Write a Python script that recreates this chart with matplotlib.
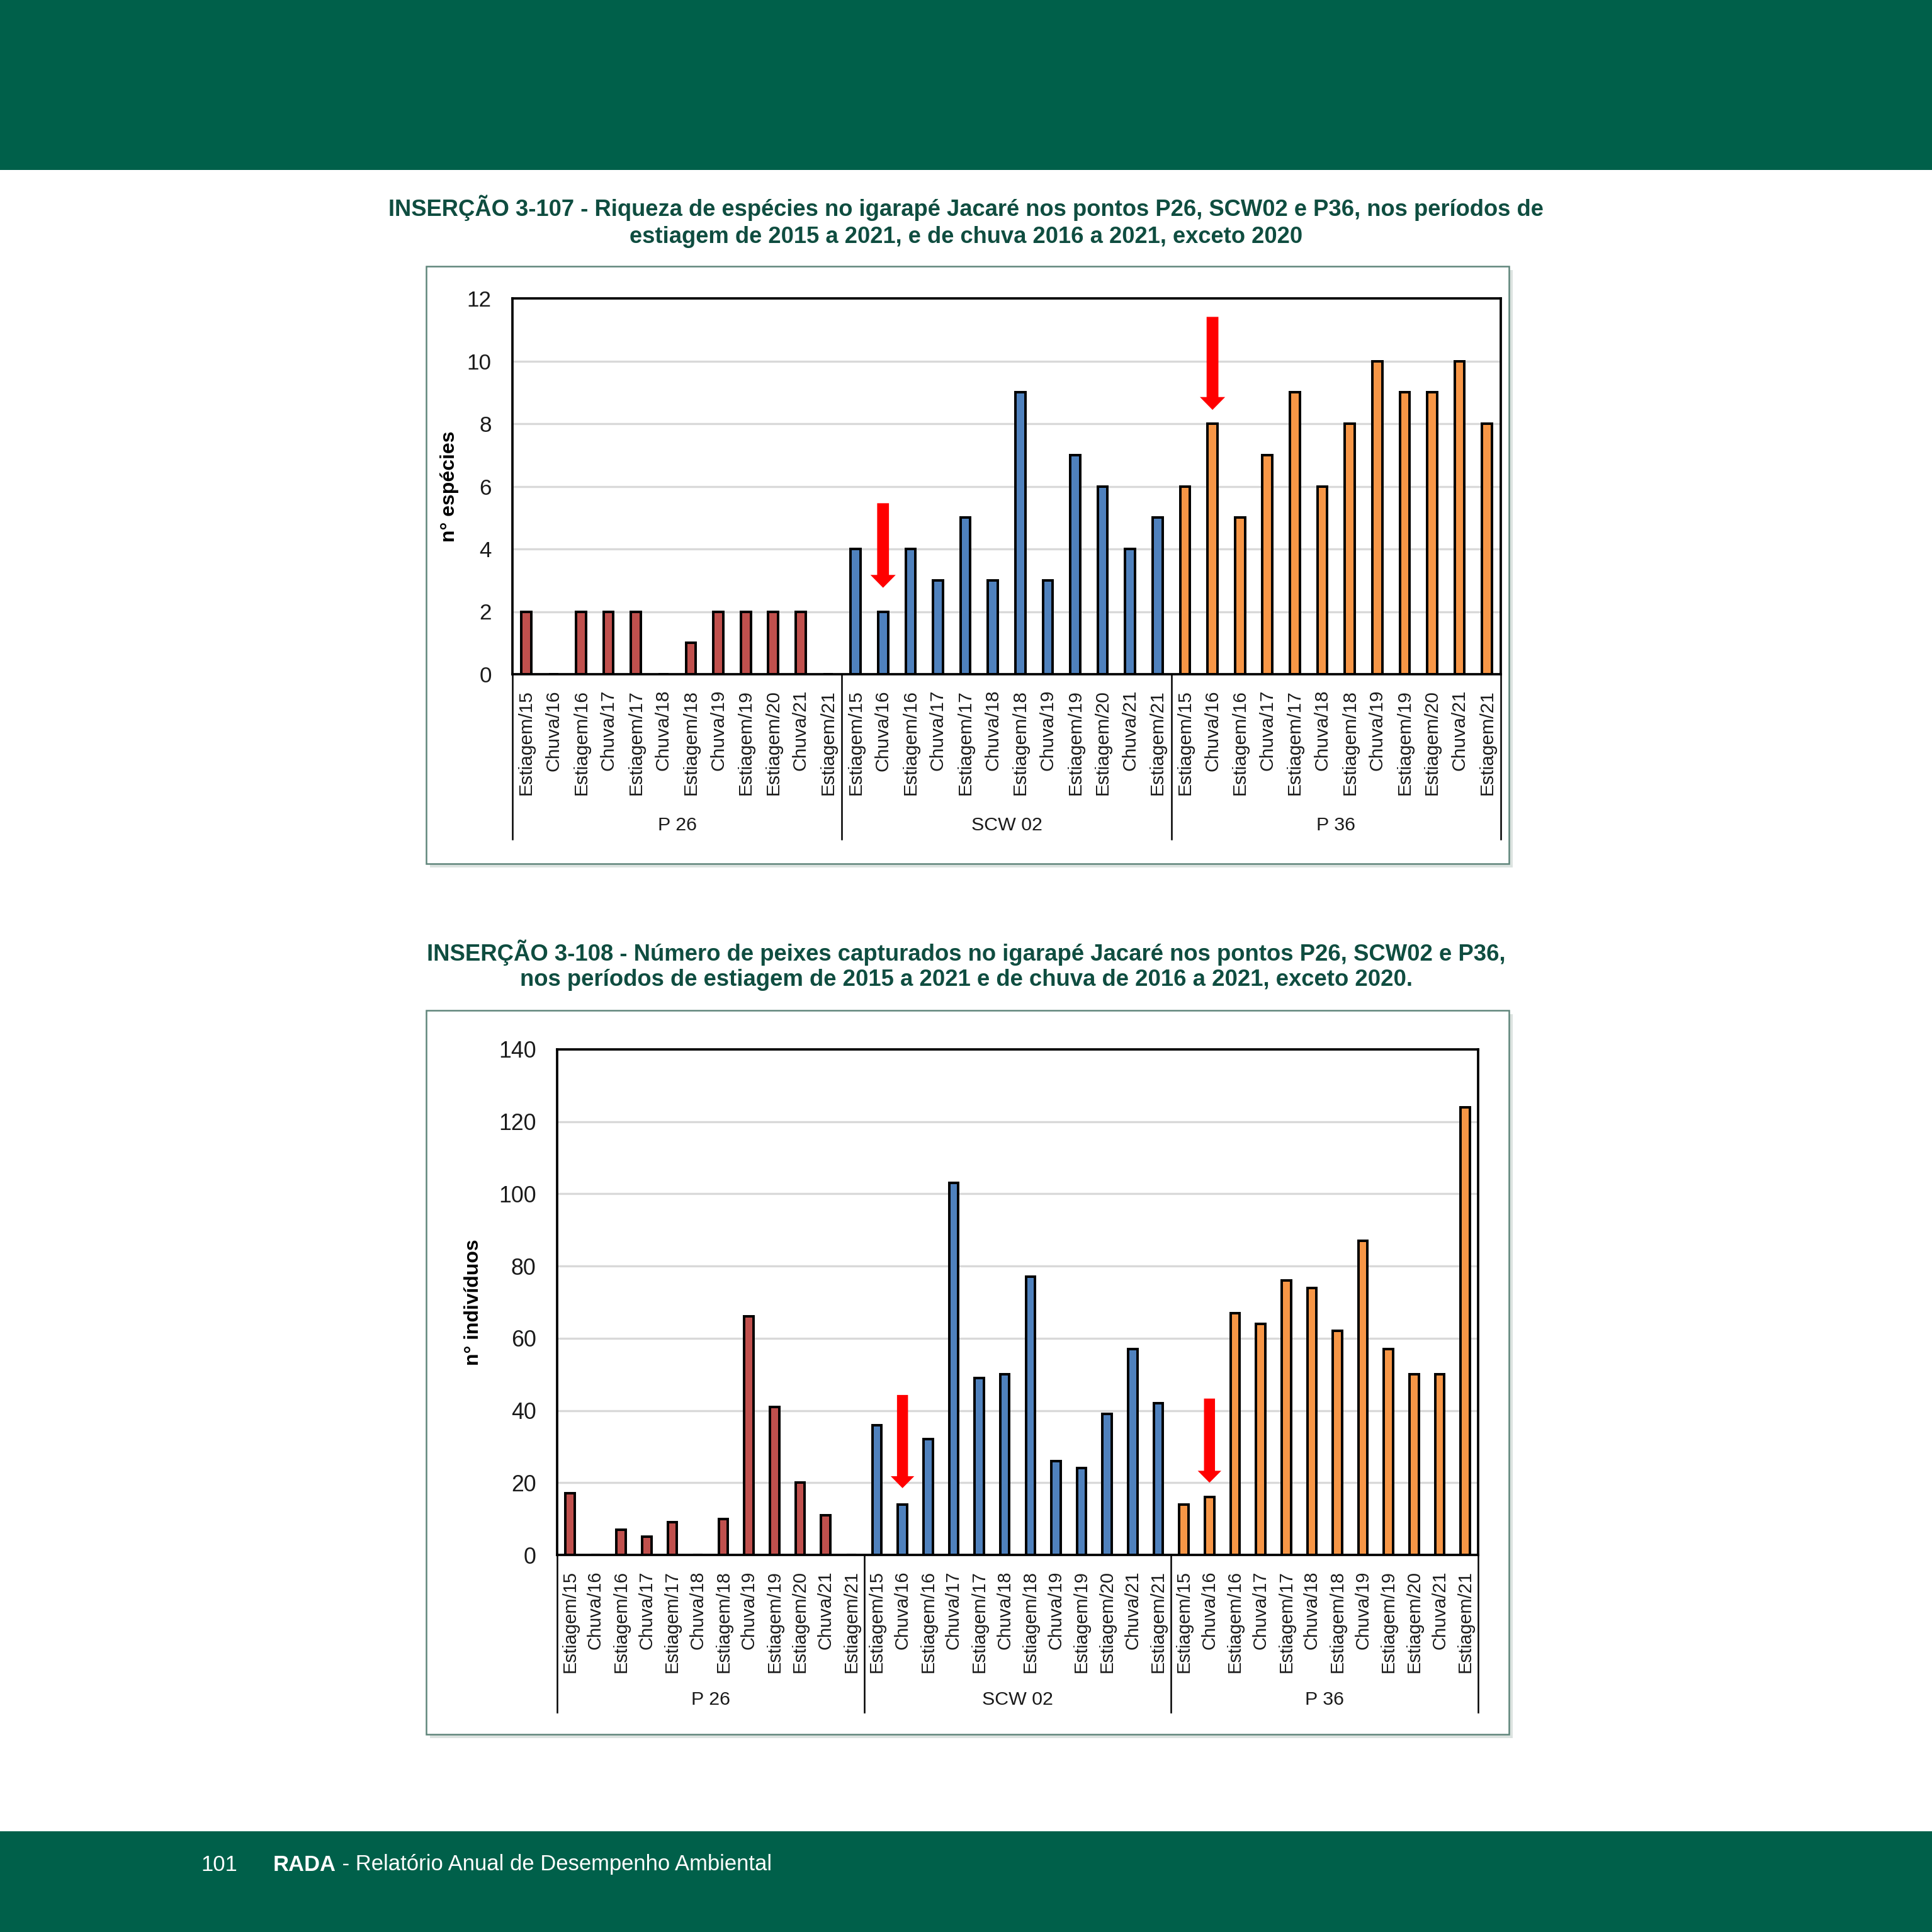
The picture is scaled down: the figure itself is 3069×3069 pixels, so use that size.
import matplotlib
matplotlib.use("Agg")
import matplotlib.pyplot as plt
from matplotlib.patches import Rectangle
from matplotlib.transforms import blended_transform_factory

W = H = 3069
DPI = 300

pontos = ["P 26", "SCW 02", "P 36"]
campanhas = ["Estiagem/15", "Chuva/16", "Estiagem/16", "Chuva/17", "Estiagem/17", "Chuva/18",
             "Estiagem/18", "Chuva/19", "Estiagem/19", "Estiagem/20", "Chuva/21", "Estiagem/21"]
cores = ["#C0504D", "#4F81BD", "#F79646"]

# Inserção 3-107 - riqueza de espécies
riqueza_p26 = [2, 0, 2, 2, 2, 0, 1, 2, 2, 2, 2, 0]
riqueza_scw02 = [4, 2, 4, 3, 5, 3, 9, 3, 7, 6, 4, 5]
riqueza_p36 = [6, 8, 5, 7, 9, 6, 8, 10, 9, 9, 10, 8]

# Inserção 3-108 - número de peixes
peixes_p26 = [17, 0, 7, 5, 9, 0, 10, 66, 41, 20, 11, 0]
peixes_scw02 = [36, 14, 32, 103, 49, 50, 77, 26, 24, 39, 57, 42]
peixes_p36 = [14, 16, 67, 64, 76, 74, 62, 87, 57, 50, 50, 124]

# setas vermelhas: (índice da categoria, topo, ponta)
setas_riqueza = [(13, 5.46, 2.76), (25, 11.41, 8.44)]
setas_peixes = [(13, 44.3, 18.5), (25, 43.3, 20.0)]

titulo1 = ["INSERÇÃO 3-107 - Riqueza de espécies no igarapé Jacaré nos pontos P26, SCW02 e P36, nos períodos de",
           "estiagem de 2015 a 2021, e de chuva 2016 a 2021, exceto 2020"]
titulo2 = ["INSERÇÃO 3-108 - Número de peixes capturados no igarapé Jacaré nos pontos P26, SCW02 e P36,",
           "nos períodos de estiagem de 2015 a 2021 e de chuva de 2016 a 2021, exceto 2020."]

VERDE = "#00604A"
VERDE_TXT = "#0F4D40"

plt.rcParams["font.family"] = ["Liberation Sans", "DejaVu Sans"]

fig = plt.figure(figsize=(W / DPI, H / DPI), dpi=DPI)
fig.patch.set_facecolor("white")

# fundo em coordenadas de pixel (y para baixo)
bg = fig.add_axes([0, 0, 1, 1])
bg.set_xlim(0, W)
bg.set_ylim(H, 0)
bg.axis("off")

bg.add_patch(Rectangle((0, 0), W, 270, facecolor=VERDE, edgecolor="none"))
bg.add_patch(Rectangle((0, 2909), W, H - 2909, facecolor=VERDE, edgecolor="none"))

for (y0, y1) in [(423, 1372), (1605, 2755)]:
    bg.add_patch(Rectangle((683, y0 + 6), 1720, y1 - y0, facecolor="#DCE3E0", edgecolor="none"))
    bg.add_patch(Rectangle((677, y0), 1720, y1 - y0, facecolor="white", edgecolor="#5F857A", linewidth=0.6))

for linha, y in zip(titulo1, [330, 376]):
    bg.text(W / 2, y, linha, ha="center", va="center", fontsize=8.72, fontweight="bold", color=VERDE_TXT)
for linha, y in zip(titulo2, [1513, 1557]):
    bg.text(W / 2, y, linha, ha="center", va="center", fontsize=8.78, fontweight="bold", color=VERDE_TXT)

# rodapé
bg.text(319, 2962, "101", ha="left", va="center", fontsize=8.3, color="white")
rada = bg.text(434, 2962, "RADA", ha="left", va="center", fontsize=8.3, color="white", fontweight="bold")
bg.annotate(" - Relatório Anual de Desempenho Ambiental", xy=(1, 0), xycoords=rada,
            ha="left", va="bottom", fontsize=8.3, color="white")


def grafico(box, series, ymax, ystep, ylabel, ylabel_x, setas, head_len, fs_y, fs_x, sep_px, grp_px):
    x0, y0, x1, y1 = box
    ax = fig.add_axes([x0 / W, 1 - y1 / H, (x1 - x0) / W, (y1 - y0) / H])
    n = len(campanhas)
    labels = []
    for g, (vals, cor) in enumerate(zip(series, cores)):
        pos = [g * n + i for i in range(n)]
        ax.bar(pos, vals, width=0.36, color=cor, edgecolor="black", linewidth=0.95, zorder=3)
        labels += campanhas

    ax.set_xlim(-0.5, len(labels) - 0.5)
    ax.set_ylim(0, ymax)
    ax.set_yticks(range(0, ymax + 1, ystep))
    ax.set_xticks(range(len(labels)))
    ax.set_xticklabels(labels, rotation=90, fontsize=fs_x, color="#1a1a1a")
    ax.tick_params(axis="x", length=0, pad=6)
    ax.tick_params(axis="y", length=0, pad=8, labelsize=fs_y, labelcolor="#1a1a1a")
    for yv in range(ystep, ymax, ystep):
        ax.axhline(yv, color="#D9D9D9", linewidth=0.8, zorder=1)
    for s in ax.spines.values():
        s.set_linewidth(0.9)
        s.set_color("black")

    # eixo de categorias em dois níveis
    tr = blended_transform_factory(ax.transData, ax.transAxes)
    h = y1 - y0
    sep_frac = -(sep_px - y1) / h
    grp_frac = -(grp_px - y1) / h
    for k in range(len(series) + 1):
        xb = k * n - 0.5
        ax.plot([xb, xb], [0, sep_frac], color="black", linewidth=0.6, transform=tr, clip_on=False)
    for k, nome in enumerate(pontos):
        ax.text(k * n + (n - 1) / 2, grp_frac, nome, transform=tr, ha="center", va="center",
                fontsize=7.3, color="#1a1a1a")

    for (xi, topo, ponta) in setas:
        ax.arrow(xi, topo, 0, ponta - topo, width=0.43, head_width=0.92, head_length=head_len,
                 length_includes_head=True, facecolor="#FF0000", edgecolor="none", zorder=4)

    bg.text(ylabel_x, (y0 + y1) / 2, ylabel, rotation=90, ha="center", va="center",
            fontsize=7.7, fontweight="bold", color="black")
    return ax


grafico((814, 474, 2384, 1071), [riqueza_p26, riqueza_scw02, riqueza_p36], 12, 2,
        "n° espécies", 714, setas_riqueza, 0.41, 8.4, 7.2, 1333, 1311)
grafico((885, 1667, 2348, 2470), [peixes_p26, peixes_scw02, peixes_p36], 140, 20,
        "n° indivíduos", 752, setas_peixes, 3.3, 8.6, 7.0, 2720, 2700)

fig.savefig("out.png", dpi=DPI)
